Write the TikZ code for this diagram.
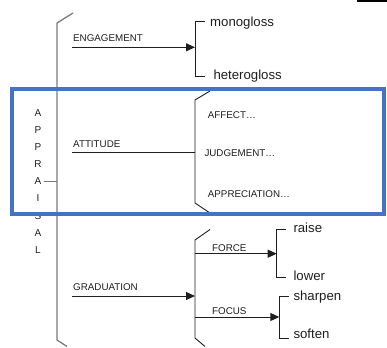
\documentclass[tikz,border=0pt]{standalone}
\usepackage{fontspec}
\setmainfont{Liberation Sans}
\usetikzlibrary{arrows.meta}
\definecolor{apink}{HTML}{1E1E1E}
\definecolor{apgrey}{HTML}{7A7A7A}
\definecolor{apblue}{HTML}{4472C4}
\tikzset{
  sys/.style={font=\fontsize{9.8}{11}\selectfont, text=apink, inner sep=0pt, anchor=base west},
  opt/.style={font=\fontsize{13.2}{15}\selectfont, text=apink, inner sep=0pt, anchor=base west},
  ltr/.style={font=\fontsize{10}{11}\selectfont, text=apink, inner sep=0pt},
  arr/.style={-{Triangle[length=9pt,width=8pt]}, line width=0.9pt, color=apink},
  ln/.style={line width=0.9pt, color=apink},
  brk/.style={line width=0.9pt, color=apink},
  sp/.style={line width=1.3pt, color=apgrey},
  hl/.style={draw=apblue, line width=3.6pt},
}

\begin{document}
\begin{tikzpicture}[x=1pt, y=-1pt]
    \useasboundingbox (0,0) rectangle (387,347);
    \draw[line width=1.6pt, black] (357,0.8) -- (387,0.8);
    % appraisal
    \foreach \i/\tx in {0/A, 1/P, 2/P, 3/R, 4/A, 5/I, 6/S, 7/A, 8/L}
      \node[ltr] (ap\i) at (38,113+17.1*\i) {\tx};
    \draw[sp] (73,13) -- (57,23) -- (57,340) -- (67,346.5);
    \coordinate (apx) at (57,180.7);
    \draw[ln, color=apgrey] (ap4.east) ++(2,0) coordinate (apt) (apt) -- (apt -| apx);
    % systems
    \node[sys] (eng) at (73,42) {ENGAGEMENT};
    \node[sys] (att) at (73,148) {ATTITUDE};
    \node[sys] (grad) at (73,290.7) {GRADUATION};
    \coordinate (engL) at (72,47.3); \coordinate (engR) at (195,47.3);
    \coordinate (attL) at (72,152.3); \coordinate (attR) at (195,152.3);
    \coordinate (gradL) at (72,296); \coordinate (gradR) at (195,296);
    \draw[arr] (engL) -- (engR);
    \draw[ln] (attL) -- (attR);
    \draw[arr] (gradL) -- (gradR);
    % engagement
    \draw[brk] (205,21.7) -- (195,21.7) -- (195,76.7) -- (205,76.7);
    \node[opt] (mono) at (210,26.7) {monogloss};
    \node[opt] (hetero) at (213.3,79.3) {heterogloss};
    % attitude
    \draw[brk] (210,91) -- (195,100) -- (195,203) -- (210,213);
    \node[sys] (aff) at (207.7,118.3) {AFFECT\ldots};
    \node[sys] (jud) at (204.3,157) {JUDGEMENT\ldots};
    \node[sys] (appr) at (207.7,197) {APPRECIATION\ldots};
    % graduation
    \draw[brk] (210,229.5) -- (195,240) -- (195,338) -- (205,346.5);
    \node[sys] (force) at (212,251) {FORCE};
    \node[sys] (focus) at (212,314) {FOCUS};
    \coordinate (forceL) at (195,253.7); \coordinate (forceR) at (276.7,253.7);
    \coordinate (focusL) at (195,317); \coordinate (focusR) at (279.3,317);
    \draw[arr] (forceL) -- (forceR);
    \draw[arr] (focusL) -- (focusR);
    \foreach \x/\t/\b in {276.7/229/277.7, 279.3/296/338.3}
      \draw[brk] (\x+9.5,\t) -- (\x,\t) -- (\x,\b) -- (\x+9.5,\b);
    \node[opt] (raise) at (293.3,232.3) {raise};
    \node[opt] (lower) at (293.3,280) {lower};
    \node[opt] (sharp) at (293.3,300.7) {sharpen};
    \node[opt] (soft) at (293.3,338.3) {soften};
    % highlight
    \draw[hl] (12,89) rectangle (384,214);
  \end{tikzpicture}
\end{document}
